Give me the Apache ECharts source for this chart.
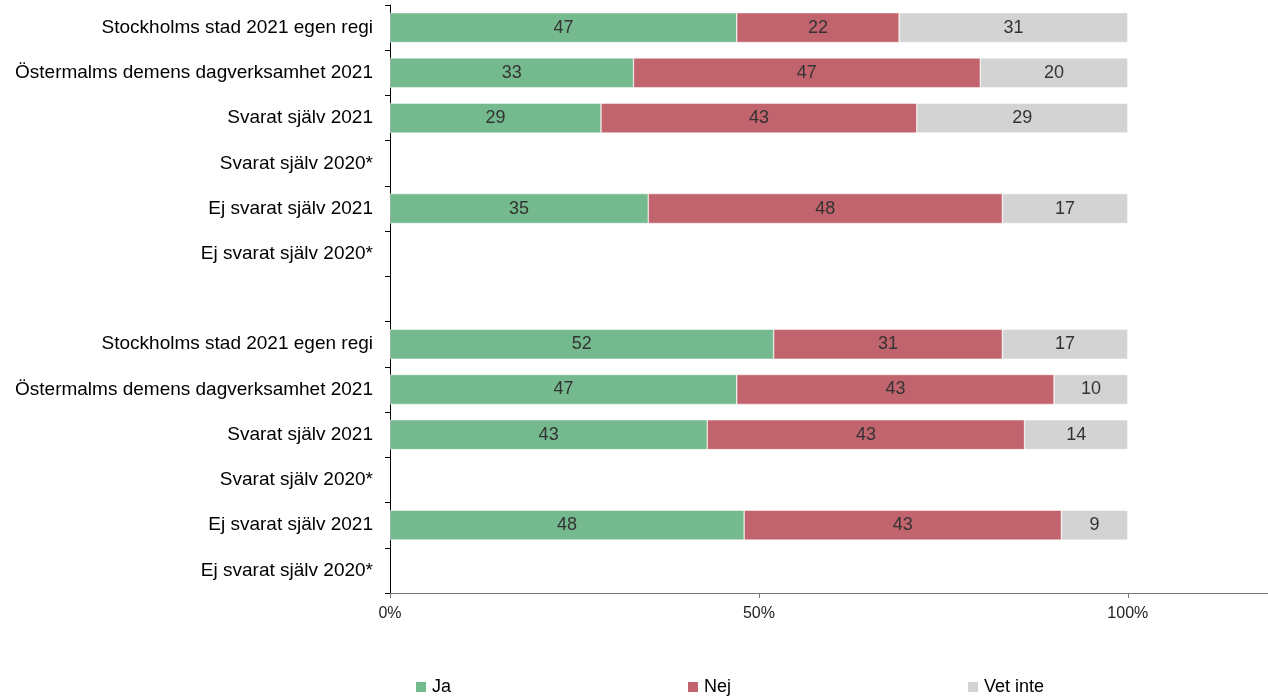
<!DOCTYPE html>
<html>
<head>
<meta charset="utf-8">
<script src="https://cdn.jsdelivr.net/npm/echarts@6/dist/echarts.min.js"></script>
<style>html,body{margin:0;padding:0;background:#fff}#c{width:1268px;height:698px}</style>
</head>
<body>
<div id="c"></div>
<script>
const categories = [
  'Stockholms stad 2021 egen regi',
  'Östermalms demens dagverksamhet 2021',
  'Svarat själv 2021',
  'Svarat själv 2020*',
  'Ej svarat själv 2021',
  'Ej svarat själv 2020*',
  '',
  'Stockholms stad 2021 egen regi',
  'Östermalms demens dagverksamhet 2021',
  'Svarat själv 2021',
  'Svarat själv 2020*',
  'Ej svarat själv 2021',
  'Ej svarat själv 2020*'
];
const ja     = [47, 33, 28.6, null, 35, null, null, 52, 47, 43, null, 48, null];
const nej    = [22, 47, 42.8, null, 48, null, null, 31, 43, 43, null, 43, null];
const vetInte= [31, 20, 28.6, null, 17, null, null, 17, 10, 14, null, 9, null];
const seriesNames = ['Ja', 'Nej', 'Vet inte'];
const xTicks = [0, 50, 100];

const colors = ['#75b98f', '#c2646d', '#d3d3d3'];
const font = "'Liberation Sans', Arial, sans-serif";
const chart = echarts.init(document.getElementById('c'));
const mk = (name, data, color) => ({
  name, type: 'bar', stack: 'tot', data,
  barCategoryGap: '34%',
  itemStyle: { color, borderColor: '#fff', borderWidth: 0.5 },
  label: {
    show: true, position: 'inside', color: '#333', fontSize: 18, fontFamily: font,
    formatter: p => p.value == null ? '' : Math.round(p.value)
  },
  emphasis: { disabled: true }
});
chart.setOption({
  animation: false,
  grid: { left: 390, right: 0, top: 5, bottom: 105, containLabel: false },
  legend: {
    top: 673, left: 409, itemWidth: 12, itemHeight: 12, itemGap: 235,
    icon: 'rect',
    textStyle: { fontSize: 18, fontFamily: font, color: '#000' },
    data: seriesNames
  },
  xAxis: {
    type: 'value', min: 0, max: 119,
    axisLine: { show: true, lineStyle: { color: '#777' } },
    axisTick: { show: true, customValues: xTicks, length: 5, lineStyle: { color: '#777' } },
    axisLabel: { customValues: xTicks, formatter: v => v + '%', fontSize: 16, fontFamily: font, color: '#222', margin: 13 },
    splitLine: { show: false }
  },
  yAxis: {
    type: 'category', data: categories, inverse: true,
    axisLine: { show: true, lineStyle: { color: '#000' } },
    axisTick: { show: true, length: 5, lineStyle: { color: '#000' } },
    axisLabel: { fontSize: 19, fontFamily: font, color: '#000', margin: 17, padding: [3, 0, 0, 0] }
  },
  series: [
    mk(seriesNames[0], ja, colors[0]),
    mk(seriesNames[1], nej, colors[1]),
    mk(seriesNames[2], vetInte, colors[2])
  ]
});
</script>
</body>
</html>
